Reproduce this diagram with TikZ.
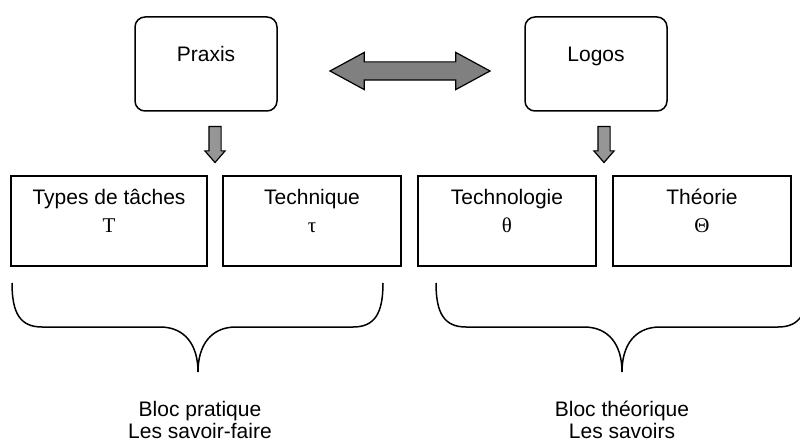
\documentclass[tikz,border=0pt]{standalone}
\usepackage{fontspec}
\setmainfont{Liberation Sans}
\newfontfamily\grk{Liberation Serif}
\usetikzlibrary{shapes.arrows}
\definecolor{arrowfill}{RGB}{128,128,128}
\definecolor{downfill}{RGB}{150,150,150}
\newcommand{\twolines}[3]{\vtop{\baselineskip=#1\lineskiplimit=-100pt\halign{\hfil##\hfil\cr #2\cr #3\cr}}}
\begin{document}
\begin{tikzpicture}[x=1pt,y=-1pt,
  txt/.style={font=\fontsize{21}{25}\selectfont},
  topbox/.style={draw, line width=1.5pt, rounded corners=10pt, minimum width=142pt,
    inner xsep=0pt, inner ysep=0pt, text height=45pt, text depth=49pt, txt},
  botbox/.style={draw, line width=1.5pt, inner xsep=0pt, inner ysep=0pt,
    text height=28pt, text depth=62pt, minimum width=178pt, txt},
  dblarrow/.style={double arrow, draw, line width=1.2pt, fill=arrowfill,
    minimum height=160pt, inner xsep=0pt, inner ysep=8.5pt,
    double arrow head extend=9.5pt, double arrow tip angle=57},
  downarrow/.style={single arrow, draw, line width=1.2pt, fill=downfill,
    minimum height=36pt, inner xsep=0pt, inner ysep=5.5pt,
    single arrow head extend=4pt, single arrow tip angle=82, rotate=-90},
  brace/.style={line width=1.5pt},
  lbl/.style={txt, anchor=base, inner sep=0pt}
]
\useasboundingbox (0,0) rectangle (800,441);
\clip (0,0) rectangle (800,441);

% top boxes
\node[topbox] (praxis) at (206,64) {Praxis};
\node[topbox] (logos) at (596,64) {Logos};

% double arrow between them
\node[dblarrow] (link) at (410,71) {};

% down arrows
\node[downarrow] (dp) at (215,141) {};
\node[downarrow] (dl) at (604,141) {};

% bottom boxes
\node[botbox, minimum width=196pt] (types) at (109,221) {\twolines{28pt}{Types de tâches}{\grk T}};
\node[botbox] (tech) at (312,221) {\twolines{28pt}{Technique}{\grk τ}};
\node[botbox] (techno) at (507,221) {\twolines{28pt}{Technologie}{\grk θ}};
\node[botbox] (theo) at (702,221) {\twolines{28pt}{Théorie}{\grk Θ}};

% braces
\draw[brace] (12,283) .. controls (12,313) and (20,327) .. (42,327) -- (160,327)
  .. controls (185,327) and (198,345) .. (198,372)
  .. controls (198,345) and (211,327) .. (236,327) -- (353,327)
  .. controls (375,327) and (383,313) .. (383,283);
\draw[brace] (436,283) .. controls (436,313) and (444,327) .. (466,327) -- (584,327)
  .. controls (609,327) and (622,345) .. (622,372)
  .. controls (622,345) and (635,327) .. (660,327) -- (778,327)
  .. controls (800,327) and (808,313) .. (808,283);

% bottom labels
\node[lbl] (bp) at (200,416) {\twolines{22pt}{Bloc pratique}{Les savoir-faire}};
\node[lbl] (bt) at (622,416) {\twolines{22pt}{Bloc théorique}{Les savoirs}};
\end{tikzpicture}
\end{document}
